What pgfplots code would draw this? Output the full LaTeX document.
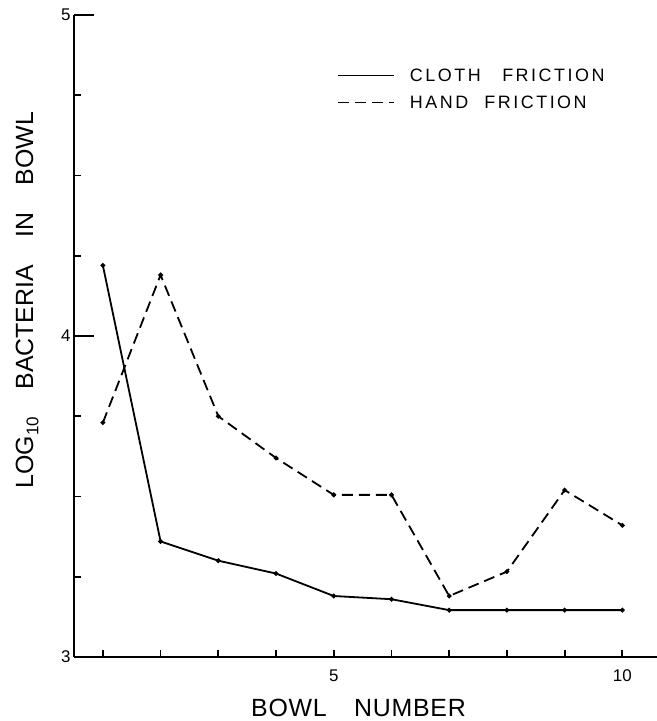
\documentclass[border=0pt]{standalone}
\usepackage{fontspec}
\setmainfont{Liberation Sans}
\usepackage{pgfplots}
\usepackage{pgfplotstable}
\pgfplotsset{compat=1.18}

% log10 bacteria per bowl
\pgfplotstableread{
bowl cloth hand
1  4.22  3.73
2  3.36  4.19
3  3.30  3.75
4  3.26  3.62
5  3.19  3.505
6  3.18  3.505
7  3.146 3.19
8  3.146 3.266
9  3.146 3.52
10 3.146 3.41
}\bowls

\begin{document}
\begin{tikzpicture}
\begin{axis}[
  name=ax,
  scale only axis,
  width=583bp, height=642bp,
  xmin=0.5, xmax=10.6, ymin=3, ymax=5,
  axis x line=bottom, axis y line=left,
  axis line style={-, line width=2.4bp},
  tick align=inside,
  xtick={5,10}, minor xtick={1,...,10},
  major x tick style={draw=none},
  ytick={3,4,5}, minor ytick={3.25,3.5,3.75,4.25,4.5,4.75},
  major tick length=20bp, minor tick length=7bp,
  tick style={black, line width=1.8bp},
  ticklabel style={font=\fontsize{17}{20}\selectfont},
  /pgf/number format/assume math mode=true,
  xticklabel style={yshift=-9bp},
  xlabel={BOWL\hspace{1.1em}NUMBER},
  xlabel style={at={(axis description cs:0.488,-0.093)}, anchor=base,
    font=\fontsize{25}{30}\selectfont\addfontfeatures{LetterSpace=3}},
  ylabel={LOG\raisebox{-0.4ex}{\fontsize{17}{17}\selectfont 10}\hspace{1.1em}BACTERIA\hspace{1.1em}IN\hspace{1.1em}BOWL},
  ylabel style={at={(axis description cs:-0.0703,0.556)}, anchor=base,
    font=\fontsize{25}{30}\selectfont},
  legend style={draw=none, fill=none, at={(axis description cs:0.451,0.920)},
    anchor=north west, inner sep=0pt, row sep=9bp,
    font=\fontsize{18}{21}\selectfont\addfontfeatures{LetterSpace=14},
    cells={anchor=west, inner sep=0pt},
    /tikz/every odd column/.append style={column sep=13bp}},
  legend image code/.code={\draw[#1] (0bp,0bp) -- (56bp,0bp);},
]
\addplot[black, line width=1.8bp, mark=*, mark size=1.4bp]
  table[x=bowl, y=cloth]{\bowls};
\addlegendentry{CLOTH\hspace{1.2em}FRICTION}
\addplot[black, line width=1.8bp, dash pattern=on 11bp off 6bp,
  mark=*, mark size=1.4bp, mark options={solid}]
  table[x=bowl, y=hand]{\bowls};
\addlegendentry{HAND\hspace{0.9em}FRICTION}
\end{axis}
\pgfresetboundingbox
\useasboundingbox (ax.south west) ++(-74bp,-64bp) rectangle ++(657bp,721bp);
\end{tikzpicture}
\end{document}
